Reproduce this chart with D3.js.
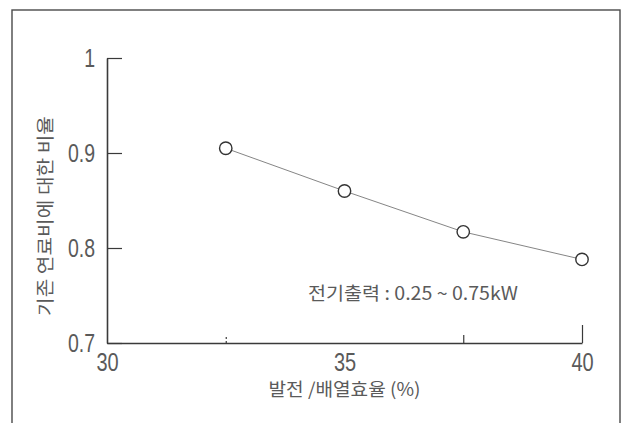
<!DOCTYPE html>
<html>
<head>
<meta charset="utf-8">
<script src="https://cdn.jsdelivr.net/npm/d3@7"></script>
<style>
  html, body { margin: 0; padding: 0; background: #fff; }
  svg { display: block; }
  .num { font-family: "Liberation Sans Narrow", "Liberation Sans", sans-serif; }
  .kr { font-family: "Noto Sans CJK KR", "Liberation Sans Narrow", sans-serif; }
</style>
</head>
<body>
<svg id="chart" width="624" height="423"></svg>
<script>
// ---- data ----
const efficiency = [32.5, 35, 37.5, 40];          // 발전/배열효율 (%)
const costRatio  = [0.905, 0.860, 0.817, 0.788];   // 기존 연료비에 대한 비율
const xTickValues = [30, 32.5, 35, 37.5, 40];
const xTickLabels = ["30", "", "35", "", "40"];
const yTickValues = [0.7, 0.8, 0.9, 1];
const yTickLabels = ["0.7", "0.8", "0.9", "1"];
const xTitle = "발전 /배열효율 (%)";
const yTitle = "기존 연료비에 대한 비율";
const note = "전기출력 : 0.25 ~ 0.75kW";

// ---- layout ----
const svg = d3.select("#chart");
const pLeft = 107, pRight = 582, pTop = 58, pBottom = 343;
const x = d3.scaleLinear().domain([30, 40]).range([pLeft, pRight]);
const y = d3.scaleLinear().domain([0.7, 1]).range([pBottom, pTop]);

const ink = "#3a3a3a";
const textInk = "#5a5a5a";

// outer frame
svg.append("rect")
  .attr("x", 12).attr("y", 10).attr("width", 608).attr("height", 430)
  .attr("fill", "none").attr("stroke", "#4a4a4a").attr("stroke-width", 1.4);

function squeeze(sel, factor) {
  sel.each(function () {
    const len = this.getComputedTextLength();
    if (len > 0) {
      d3.select(this).attr("textLength", len * factor).attr("lengthAdjust", "spacingAndGlyphs");
    }
  });
}

// y axis
const yAxis = d3.axisLeft(y)
  .tickValues(yTickValues)
  .tickFormat((d, i) => yTickLabels[i])
  .tickSizeInner(-15).tickSizeOuter(0).tickPadding(12);
const gy = svg.append("g").attr("transform", `translate(${pLeft},0)`).call(yAxis);
gy.attr("font-family", null).attr("font-size", null);
gy.select(".domain").attr("stroke", ink).attr("stroke-width", 1.6);
gy.selectAll(".tick line").attr("stroke", ink).attr("stroke-width", 1.2);
gy.selectAll(".tick text")
  .attr("class", "num")
  .attr("font-size", 25).attr("fill", textInk)
  .attr("x", -12);
squeeze(gy.selectAll(".tick text"), 0.78);

// x axis
const xTickLen = d => (d === 40 ? 18 : (d === 32.5 || d === 37.5) ? 8 : 0);
const xAxis = d3.axisBottom(x)
  .tickValues(xTickValues)
  .tickFormat((d, i) => xTickLabels[i])
  .tickSizeInner(0).tickSizeOuter(0).tickPadding(10);
const gx = svg.append("g").attr("transform", `translate(0,${pBottom})`).call(xAxis);
gx.attr("font-family", null).attr("font-size", null);
gx.select(".domain").attr("stroke", ink).attr("stroke-width", 1.6);
gx.selectAll(".tick line")
  .attr("y2", d => -xTickLen(d))
  .attr("stroke", ink)
  .attr("stroke-width", 1.2)
  .attr("stroke-dasharray", d => d === 32.5 ? "2,2" : null);
gx.selectAll(".tick text")
  .attr("class", "num")
  .attr("font-size", 25).attr("fill", textInk);
squeeze(gx.selectAll(".tick text"), 0.8);

// line + markers
const pts = efficiency.map((e, i) => [e, costRatio[i]]);
svg.append("path")
  .datum(pts)
  .attr("fill", "none")
  .attr("stroke", "#777")
  .attr("stroke-width", 0.9)
  .attr("d", d3.line().x(d => x(d[0])).y(d => y(d[1])));

svg.selectAll("circle.pt")
  .data(pts)
  .join("circle")
  .attr("class", "pt")
  .attr("cx", d => x(d[0]))
  .attr("cy", d => y(d[1]))
  .attr("r", 6.2)
  .attr("fill", "#fff")
  .attr("stroke", "#333")
  .attr("stroke-width", 1.4);

// annotation
svg.append("text")
  .attr("class", "kr")
  .attr("x", 308).attr("y", 300)
  .attr("font-size", 18)
  .attr("fill", textInk)
  .attr("textLength", 210).attr("lengthAdjust", "spacingAndGlyphs")
  .text(note);

// axis titles
svg.append("text")
  .attr("class", "kr")
  .attr("x", (pLeft + pRight) / 2).attr("y", 396)
  .attr("text-anchor", "middle")
  .attr("font-size", 18)
  .attr("fill", textInk)
  .attr("textLength", 152).attr("lengthAdjust", "spacingAndGlyphs")
  .text(xTitle);

svg.append("text")
  .attr("class", "kr")
  .attr("transform", "translate(52,216) rotate(-90)")
  .attr("text-anchor", "middle")
  .attr("font-size", 18)
  .attr("fill", textInk)
  .attr("textLength", 200).attr("lengthAdjust", "spacingAndGlyphs")
  .text(yTitle);
</script>
</body>
</html>
